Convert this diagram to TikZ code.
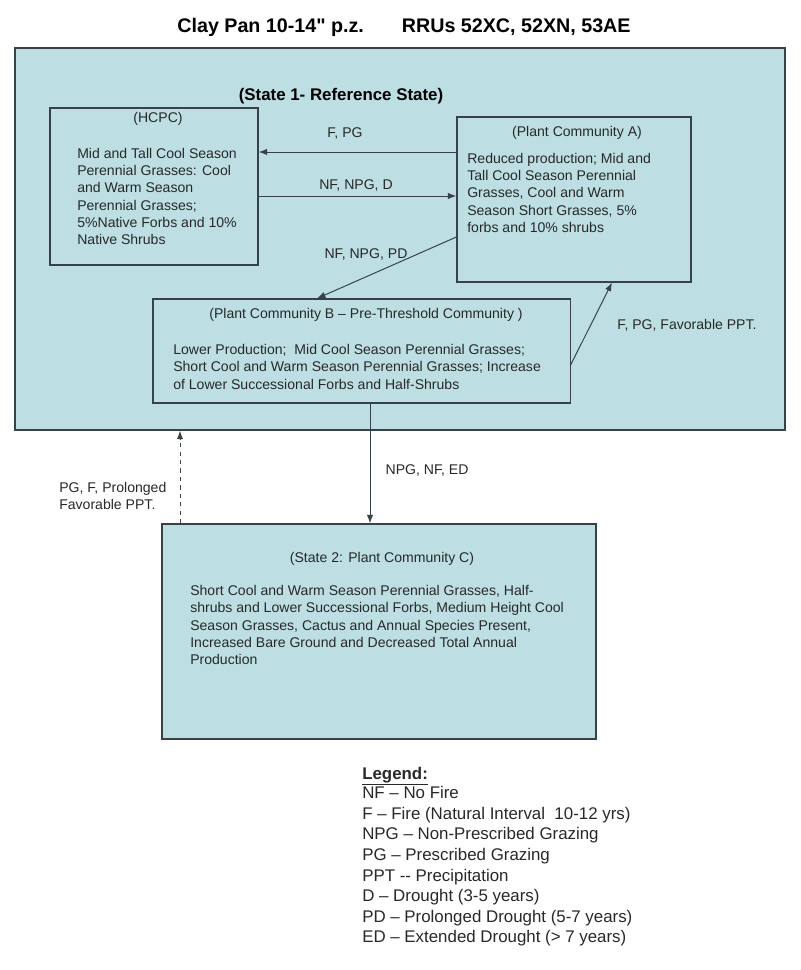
\documentclass[tikz,border=0pt]{standalone}
\usepackage{fontspec}
\setmainfont{Liberation Sans}
\newfontfamily\titlefont{Liberation Sans}[Ligatures=TeXOff]
\usetikzlibrary{arrows.meta}
\definecolor{stateblue}{RGB}{189,223,227}
\definecolor{boxline}{RGB}{55,65,70}
\definecolor{inktext}{RGB}{40,40,40}
\tikzset{
  statebox/.style={draw=boxline, fill=stateblue, line width=0.9pt, inner sep=0pt},
  commbox/.style={draw=boxline, line width=0.8pt, inner sep=0pt},
  boxtitle/.style={inner sep=0pt, text=inktext, font=\fontsize{10}{12.1}\selectfont},
  boxbody/.style={inner sep=0pt, anchor=north west, align=left, text=inktext, font=\fontsize{10}{12.1}\selectfont},
  trans/.style={inner sep=0pt, text=inktext, font=\fontsize{10}{12.1}\selectfont},
  legline/.style={inner sep=0pt, anchor=base west, text=inktext, font=\fontsize{12}{14.9}\selectfont},
  arr/.style={draw=boxline, line width=0.7pt, -{Latex[length=6pt,width=4.5pt]}}
}

\begin{document}
\begin{tikzpicture}[x=0.025cm,y=-0.025cm]
  \useasboundingbox (0,0) rectangle (800,970);
  \node[text=black, font=\titlefont\bfseries\fontsize{14}{16}\selectfont] (title) at (404,27)
     {Clay Pan 10-14" p.z.\hspace*{27pt}RRUs 52XC, 52XN, 53AE};
  % state 1 with its communities
  \node[statebox, minimum width=19.25cm, minimum height=9.55cm] (state1) at (400,239) {};
  \node[text=black, font=\bfseries\fontsize{12}{14}\selectfont] (state1T) at (341,96) {(State 1- Reference State)};
  \node[commbox, minimum width=5.2cm, minimum height=3.925cm] (hcpc) at (154,186.5) {};
  \node[commbox, minimum width=5.85cm, minimum height=4.125cm] (pcA) at (574,199.5) {};
  \node[commbox, minimum width=10.425cm, minimum height=2.6cm] (pcB) at (361.5,351) {};
  \node[statebox, minimum width=10.85cm, minimum height=5.375cm] (state2) at (379,631.5) {};

  \node[boxtitle] (hcpcT) at (158,119) {(HCPC)};
  \node[boxbody] (hcpcB) at (77,148.5) {Mid and Tall Cool Season\\Perennial Grasses: Cool\\and Warm Season\\Perennial Grasses;\\5\%Native Forbs and 10\%\\Native Shrubs};
  \node[boxtitle] (pcAT) at (577,133) {(Plant Community A)};
  \node[boxbody] (pcAB) at (467,153.5) {Reduced production; Mid and\\Tall Cool Season Perennial\\Grasses, Cool and Warm\\Season Short Grasses, 5\%\\forbs and 10\% shrubs};
  \node[boxtitle] (pcBT) at (366,315) {(Plant Community B -- Pre-Threshold Community )};
  \node[boxbody] (pcBB) at (173,344.5) {Lower Production;\ \ Mid Cool Season Perennial Grasses;\\Short Cool and Warm Season Perennial Grasses; Increase\\of Lower Successional Forbs and Half-Shrubs};
  \node[boxtitle] (state2T) at (382,559) {(State 2: Plant Community C)};
  \node[boxbody] (state2B) at (190,585.5) {Short Cool and Warm Season Perennial Grasses, Half-\\shrubs and Lower Successional Forbs, Medium Height Cool\\Season Grasses, Cactus and Annual Species Present,\\Increased Bare Ground and Decreased Total Annual\\Production};

  % transitions
  \draw[arr] (pcA.west |- 0,152) -- (hcpc.east |- 0,152);
  \draw[arr] (hcpc.east |- 0,196) -- (pcA.west |- 0,196);
  \draw[arr] (pcA.west |- 0,237) -- (pcB.north -| 317,0);
  \draw[arr] (pcB.east |- 0,365) -- (pcA.south -| 612,0);
  \draw[arr] (pcB.south -| 370,0) -- (state2.north -| 370,0);
  \draw[arr, dashed] (state2.north -| 180,0) -- (state1.south -| 180,0);
  \node[trans] (lblFPG) at (345,133) {F, PG};
  \node[trans] (lblNFD) at (356,185) {NF, NPG, D};
  \node[trans] (lblNFPD) at (366,254) {NF, NPG, PD};
  \node[trans] (lblFav) at (687,325) {F, PG, Favorable PPT.};
  \node[trans] (lblED) at (427,470) {NPG, NF, ED};
  \node[trans, anchor=north west, align=left] (lblBack) at (59,482.5) {PG, F, Prolonged\\Favorable PPT.};

  % legend
  \node[legline, font=\bfseries\fontsize{12}{14.9}\selectfont] (leg0) at (362,779) {\underline{Legend:}};
  \foreach \t [count=\k] in {NF -- No Fire, F -- Fire (Natural Interval\ \ 10-12 yrs), NPG -- Non-Prescribed Grazing,
      PG -- Prescribed Grazing, PPT -{}- Precipitation, D -- Drought (3-5 years),
      PD -- Prolonged Drought (5-7 years), ED -- Extended Drought (> 7 years)}
    \node[legline] (leg\k) at (362,778+20.6*\k) {\t};
\end{tikzpicture}
\end{document}
